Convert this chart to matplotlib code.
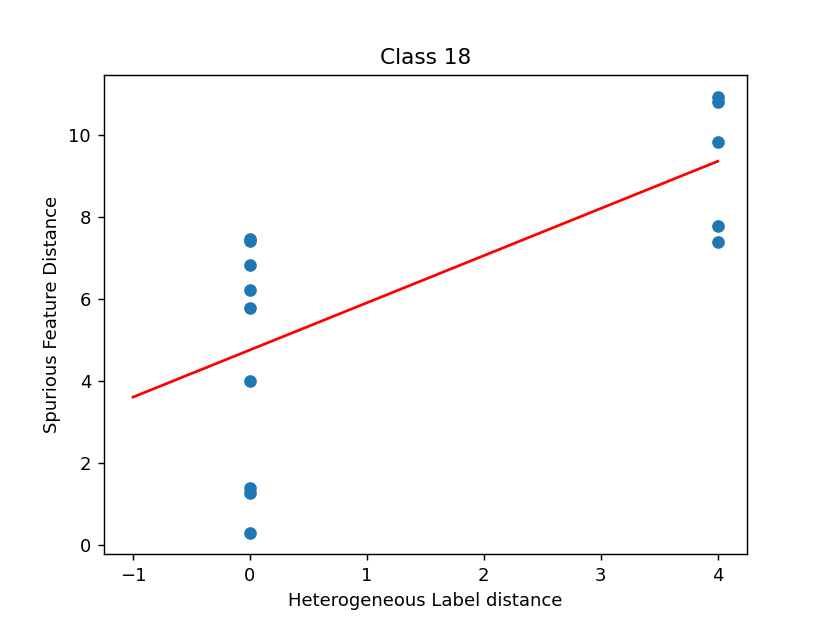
import matplotlib
matplotlib.use("Agg")
import matplotlib.pyplot as plt
import numpy as np

# Scatter data
label_dist = [0, 0, 0, 0, 0, 0, 0, 0, 0,
              4, 4, 4, 4, 4]
feature_dist = [0.30, 1.28, 1.39, 4.00, 5.79, 6.22, 6.83, 7.42, 7.47,
                7.41, 7.78, 9.83, 10.82, 10.95]

# Fitted line end points
fit_x = [-1, 4]
fit_y = [3.61, 9.37]

fig, ax = plt.subplots(figsize=(830 / 130, 623 / 130), dpi=130)
ax.scatter(label_dist, feature_dist)
ax.plot(fit_x, fit_y, color="red")

ax.set_title("Class 18")
ax.set_xlabel("Heterogeneous Label distance")
ax.set_ylabel("Spurious Feature Distance")

fig.savefig("out.png", dpi=130)
